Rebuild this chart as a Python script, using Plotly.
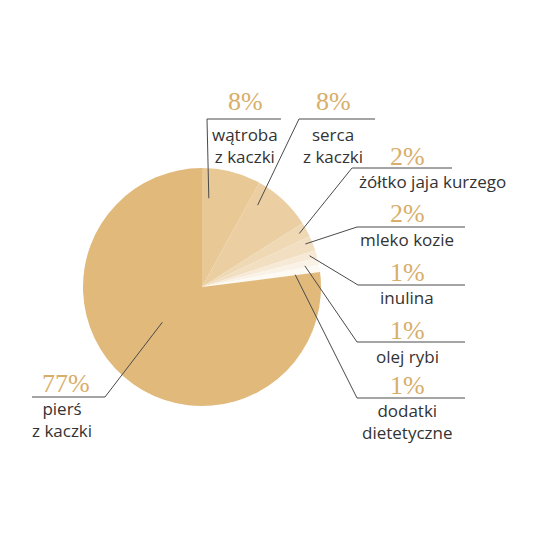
import math
import plotly.graph_objs as go

# data
labels = ['wątroba<br>z kaczki', 'serca<br>z kaczki', 'żółtko jaja kurzego',
          'mleko kozie', 'inulina', 'olej rybi', 'dodatki<br>dietetyczne',
          'pierś<br>z kaczki']
values = [8, 8, 2, 2, 1, 1, 1, 77]
pct_text = ['8%', '8%', '2%', '2%', '1%', '1%', '1%', '77%']

colors = ['#E8C894', '#EBCEA2', '#EFD8B4', '#F2DFC2', '#F6E9D6',
          '#FAF2E7', '#FDF9F3', '#E0B97B']

# page has an 8px body margin, so the figure is 520 and positions are shifted
W = H = 520
OFF = 8
cx, cy, R = 202, 287, 119


def px(x):
    return (x - OFF) / W


def py(y):
    return 1 - (y - OFF) / H


fig = go.Figure(go.Pie(
    labels=labels,
    values=values,
    sort=False,
    direction='clockwise',
    rotation=0,
    marker=dict(colors=colors, line=dict(width=0)),
    textinfo='none',
    hoverinfo='label+percent',
    showlegend=False,
    domain=dict(x=[px(cx - R), px(cx + R)], y=[py(cy + R), py(cy - R)]),
))

# label layout: (pct x, pct y, text x, text y, elbow x, elbow y, line end x, start r, angle offset)
layout_pos = [
    (245, 101, 245, 146, 207, 119, 281, 89, -10),
    (333, 101, 333, 146, 299, 119, 375, 99, -9),
    (407, 156, 432, 182, 352, 168, 452, 111, 0),
    (407, 214, 407, 240, 357, 227, 465, 112, -1),
    (407, 272, 407, 297, 358, 285, 465, 112, 0),
    (407, 330, 407, 356, 357, 342, 465, 105, 1),
    (407, 385, 407, 421, 357, 398, 465, 94, 1.5),
    (66, 383, 62, 419, 105, 397, 32, 53, 7),
]

total = sum(values)
cum = 0
annotations = []
shapes = []
for i, v in enumerate(values):
    mid = (cum + v / 2) / total * 360
    cum += v
    p_x, p_y, t_x, t_y, e_x, e_y, end_x, r, off = layout_pos[i]
    a = math.radians(mid + off)
    sx = cx + r * math.sin(a)
    sy = cy - r * math.cos(a)
    shapes.append(dict(
        type='path', xref='paper', yref='paper',
        path='M {} {} L {} {} L {} {}'.format(px(sx), py(sy), px(e_x),
                                              py(e_y), px(end_x), py(e_y)),
        line=dict(color='#4a4a4a', width=1),
    ))
    annotations.append(dict(
        text=pct_text[i], x=px(p_x), y=py(p_y), xref='paper', yref='paper',
        xanchor='center', yanchor='middle', showarrow=False,
        font=dict(family='Liberation Serif', size=26, color='#D8AE6A'),
    ))
    annotations.append(dict(
        text=labels[i], x=px(t_x), y=py(t_y), xref='paper', yref='paper',
        xanchor='center', yanchor='middle', showarrow=False, align='center',
        font=dict(family='Open Sans', size=17, color='#333333'),
    ))

fig.update_layout(
    width=W,
    height=H,
    autosize=False,
    margin=dict(t=0, b=0, l=0, r=0),
    paper_bgcolor='white',
    plot_bgcolor='white',
    shapes=shapes,
    annotations=annotations,
)

fig.write_html('out.html')
